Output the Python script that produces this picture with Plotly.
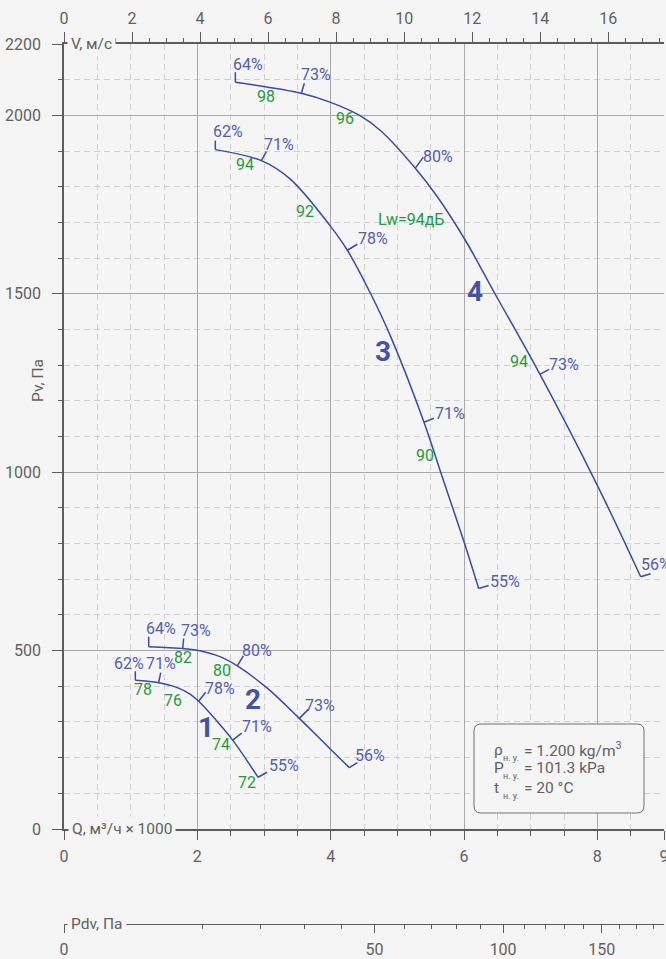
import numpy as np
import plotly.graph_objects as go

# ---------------- data ----------------
q_ticks = [0, 2, 4, 6, 8, 9]
pv_ticks = [0, 500, 1000, 1500, 2000, 2200]
v_ticks = [0, 2, 4, 6, 8, 10, 12, 14, 16]
pdv_ticks = [0, 50, 100, 150]
pdv_minor = [10, 20, 30, 40, 60, 70, 80, 90, 110, 120, 130, 140, 160, 170, 180]

V_PER_Q = 1.96      # m/s per 1000 m3/h
RHO = 1.2

c1_q = [1.07, 1.42, 1.69, 1.89, 2.02, 2.24, 2.53, 2.91]
c1_pv = [417, 410, 397, 378, 358, 314, 249, 145]
c2_q = [1.27, 1.78, 2.00, 2.34, 2.60, 3.04, 3.53, 3.99, 4.28]
c2_pv = [511, 506, 501, 483, 457, 396, 310, 225, 172]
c3_q = [2.27, 2.96, 3.39, 3.99, 4.25, 4.60, 4.90, 5.40, 5.65, 6.00, 6.22]
c3_pv = [1904, 1873, 1822, 1691, 1622, 1500, 1380, 1140, 1000, 805, 674]
c4_q = [2.57, 3.56, 3.99, 4.44, 4.75, 5.27, 5.60, 6.02, 6.45, 7.14, 8.00, 8.65]
c4_pv = [2093, 2062, 2037, 1999, 1957, 1852, 1772, 1650, 1505, 1274, 963, 707]

# efficiency marks
c1_eff_q = [1.07, 1.42, 2.02, 2.53, 2.91]
c1_eff_pv = [417, 410, 358, 249, 145]
c1_eff = [62, 71, 78, 71, 55]
c2_eff_q = [1.27, 1.78, 2.60, 3.53, 4.28]
c2_eff_pv = [511, 506, 457, 310, 172]
c2_eff = [64, 73, 80, 73, 56]
c3_eff_q = [2.27, 2.96, 4.25, 5.40, 6.22]
c3_eff_pv = [1904, 1873, 1622, 1140, 674]
c3_eff = [62, 71, 78, 71, 55]
c4_eff_q = [2.57, 3.56, 5.27, 7.14, 8.65]
c4_eff_pv = [2093, 2062, 1852, 1274, 707]
c4_eff = [64, 73, 80, 73, 56]

# sound power levels Lw, dB
c1_lw_q = [1.18, 1.63, 2.35, 2.75]
c1_lw_pv = [391, 359, 238, 131]
c1_lw = [78, 76, 74, 72]
c2_lw_q = [1.78, 2.37]
c2_lw_pv = [481, 443]
c2_lw = [82, 80]
c3_lw_q = [2.72, 3.62, 5.41]
c3_lw_pv = [1861, 1731, 1046]
c3_lw = [94, 92, 90]
c4_lw_q = [3.03, 4.22, 6.83]
c4_lw_pv = [2053, 1990, 1309]
c4_lw = [98, 96, 94]
lw_note_q, lw_note_pv, lw_note = 5.21, 1708, "Lw=94дБ"

curve_names = ["1", "2", "3", "4"]
name_q = [2.13, 2.84, 4.79, 6.17]
name_pv = [284, 364, 1339, 1507]

# ---------------- styles ----------------
BG = "#f5f5f5"
AX = "#5c5c5c"
GRID = "#a9a9a9"
GRID2 = "#d0d0d0"
TXT = "#616161"
CURVE = "#3a4aa6"
EFF = "#5160b3"
NOISE = "#1f9a40"
NUM = "#4453a8"
FONT = "Roboto"
FS = 16

W, H = 666, 959
ML, MR, MT, MB = 64, 2, 44, 35
PW, PH = W - ML - MR, H - MT - MB
PLOT_L = ML                    # page pixel of Q = 0
PLOT_T = MT                    # page pixel of Pv = 2200
PAPER_B = H - MB               # page pixel of paper bottom (Pdv axis)
Y_ZERO_PX = 829                # page pixel of Pv = 0
Y_DOM0 = (PAPER_B - Y_ZERO_PX) / PH
Q_MAX, PV_MAX = 9, 2200


def px_q(px):
    return (px - PLOT_L) / PW * Q_MAX


def px_pv(py):
    return (Y_ZERO_PX - py) / (Y_ZERO_PX - PLOT_T) * PV_MAX


def px_paper_y(py):
    return (PAPER_B - py) / PH


# tick vectors (dx, dy up) and label offsets (dx, dy up) in pixels
tick_vec = [
    [(0, 9), (2, 10), (7, 9), (9, 7), (9, 5)],
    [(0, 10), (1, 10), (6, 10), (9, 9), (8, 5)],
    [(0, 9), (5, 9), (10, 6), (10, 4), (10, 3)],
    [(0, 10), (3, 10), (8, 11), (9, 5), (10, 3)],
]
lab_off = [
    [(-6, 17), (2, 19), (21, 13), (24, 14), (26, 12)],
    [(12, 18), (13, 18), (20, 15), (21, 13), (21, 12)],
    [(13, 18), (18, 16), (26, 12), (26, 9), (26, 7)],
    [(13, 18), (15, 19), (23, 12), (24, 10), (15, 12)],
]

curves = [(c1_q, c1_pv), (c2_q, c2_pv), (c3_q, c3_pv), (c4_q, c4_pv)]
effs = [(c1_eff_q, c1_eff_pv, c1_eff), (c2_eff_q, c2_eff_pv, c2_eff),
        (c3_eff_q, c3_eff_pv, c3_eff), (c4_eff_q, c4_eff_pv, c4_eff)]
lws = [(c1_lw_q, c1_lw_pv, c1_lw), (c2_lw_q, c2_lw_pv, c2_lw),
       (c3_lw_q, c3_lw_pv, c3_lw), (c4_lw_q, c4_lw_pv, c4_lw)]

fig = go.Figure()

for cq, cpv in curves:
    fig.add_trace(go.Scatter(x=cq, y=cpv, mode="lines",
                             line=dict(color=CURVE, width=1.5, shape="spline", smoothing=1.0),
                             hoverinfo="skip", cliponaxis=False))

# invisible traces so the secondary axes are drawn
fig.add_trace(go.Scatter(x=[0], y=[0], xaxis="x2", yaxis="y", mode="markers",
                         marker=dict(opacity=0), hoverinfo="skip"))
fig.add_trace(go.Scatter(x=[0], y=[0], xaxis="x3", yaxis="y", mode="markers",
                         marker=dict(opacity=0), hoverinfo="skip"))

shapes = []
annotations = []

for ci, (eq, epv, ev) in enumerate(effs):
    for k in range(len(eq)):
        dx, dy = tick_vec[ci][k]
        shapes.append(dict(type="line", xref="x", yref="y", xsizemode="pixel", ysizemode="pixel",
                           xanchor=eq[k], yanchor=epv[k], x0=0, y0=0, x1=dx, y1=dy,
                           line=dict(color=CURVE, width=1.5)))
        ox, oy = lab_off[ci][k]
        annotations.append(dict(x=eq[k], y=epv[k], xref="x", yref="y", text=f"{ev[k]}%",
                                showarrow=False, xshift=ox, yshift=oy,
                                xanchor="center", yanchor="middle",
                                font=dict(family=FONT, size=FS, color=EFF)))

for lq, lpv, lv in lws:
    for k in range(len(lq)):
        annotations.append(dict(x=lq[k], y=lpv[k], xref="x", yref="y", text=str(lv[k]),
                                showarrow=False, xanchor="center", yanchor="middle",
                                font=dict(family=FONT, size=FS, color=NOISE)))
annotations.append(dict(x=lw_note_q, y=lw_note_pv, xref="x", yref="y", text=lw_note,
                        showarrow=False, xanchor="center", yanchor="middle",
                        font=dict(family=FONT, size=FS, color=NOISE)))

for k in range(len(curve_names)):
    annotations.append(dict(x=name_q[k], y=name_pv[k], xref="x", yref="y",
                            text=f"<b>{curve_names[k]}</b>", showarrow=False,
                            xanchor="center", yanchor="middle",
                            font=dict(family=FONT, size=28, color=NUM)))

# axis titles
annotations.append(dict(x=0, y=0, xref="paper", yref="y", xshift=4, text="Q, м³/ч × 1000",
                        showarrow=False, xanchor="left", yanchor="middle", bgcolor=BG, borderpad=3,
                        font=dict(family=FONT, size=15.5, color=TXT)))
annotations.append(dict(x=0, y=1, xref="paper", yref="paper", xshift=3, text="V, м/с",
                        showarrow=False, xanchor="left", yanchor="middle", bgcolor=BG, borderpad=3,
                        font=dict(family=FONT, size=15.5, color=TXT)))
annotations.append(dict(x=0, y=0, xref="paper", yref="paper", xshift=3, text="Pdv, Па",
                        showarrow=False, xanchor="left", yanchor="middle", bgcolor=BG, borderpad=3,
                        font=dict(family=FONT, size=15.5, color=TXT)))
annotations.append(dict(x=0, y=px_paper_y(381), xref="paper", yref="paper", xshift=-26,
                        text="Pv, Па", textangle=-90, showarrow=False,
                        xanchor="center", yanchor="middle",
                        font=dict(family=FONT, size=15.5, color=TXT)))


# info box (rounded rectangle)
def rrect_path(x0, y0, x1, y1, r):
    P = lambda x, y: f"{px_q(x):.5f},{px_pv(y):.3f}"
    return (f"M{P(x0 + r, y0)} L{P(x1 - r, y0)} Q{P(x1, y0)} {P(x1, y0 + r)} "
            f"L{P(x1, y1 - r)} Q{P(x1, y1)} {P(x1 - r, y1)} L{P(x0 + r, y1)} "
            f"Q{P(x0, y1)} {P(x0, y1 - r)} L{P(x0, y0 + r)} Q{P(x0, y0)} {P(x0 + r, y0)} Z")


shapes.append(dict(type="path", xref="x", yref="y", path=rrect_path(474, 724, 644, 813, 7),
                   line=dict(color="#707070", width=1), fillcolor=BG, layer="above"))

box_rows = [("ρ", "= 1.200 kg/m<sup>3</sup>", 749.5),
            ("P", "= 101.3 kPa", 767.5),
            ("t", "= 20 °C", 787.5)]
for sym, val, yc in box_rows:
    annotations.append(dict(x=px_q(492), y=px_pv(yc), xref="x", yref="y", text=sym, showarrow=False,
                            xanchor="left", yanchor="middle",
                            font=dict(family=FONT, size=15.5, color=TXT)))
    annotations.append(dict(x=px_q(501), y=px_pv(yc + 8.5), xref="x", yref="y", text="н. у.",
                            showarrow=False, xanchor="left", yanchor="middle",
                            font=dict(family=FONT, size=9, color=TXT)))
    annotations.append(dict(x=px_q(522), y=px_pv(yc), xref="x", yref="y", text=val, showarrow=False,
                            xanchor="left", yanchor="middle",
                            font=dict(family=FONT, size=15.5, color=TXT)))

tickfont = dict(family=FONT, size=FS, color=TXT)
v_max = Q_MAX * V_PER_Q
s_max = np.sqrt(RHO / 2) * v_max

fig.update_layout(
    width=W, height=H,
    margin=dict(l=ML, r=MR, t=MT, b=MB, pad=0, autoexpand=False),
    paper_bgcolor=BG, plot_bgcolor=BG,
    showlegend=False,
    font=dict(family=FONT, color=TXT),
    shapes=shapes,
    annotations=annotations,
    xaxis=dict(range=[0, Q_MAX], domain=[0, 1], anchor="y", tickmode="array", tickvals=q_ticks,
               ticks="outside", ticklen=9, tickwidth=1, tickcolor=AX, automargin=False,
               showgrid=True, gridcolor=GRID, gridwidth=1,
               showline=True, linecolor=AX, linewidth=2, zeroline=False,
               tickfont=tickfont, fixedrange=True, ticklabelstandoff=3, ticklabeloverflow="allow",
               minor=dict(dtick=0.5, tick0=0, ticks="outside", ticklen=5, tickwidth=1, tickcolor=AX,
                          showgrid=True, gridcolor=GRID2, gridwidth=1, griddash="6px,4px")),
    xaxis2=dict(range=[0, v_max], overlaying="x", side="top", anchor="y", automargin=False,
                tickmode="array", tickvals=v_ticks, ticks="outside", ticklen=10, tickwidth=1,
                tickcolor=AX, showgrid=False, showline=True, linecolor=AX, linewidth=1.5,
                zeroline=False, tickfont=tickfont, fixedrange=True, ticklabelstandoff=2,
                ticklabeloverflow="allow",
                minor=dict(dtick=0.5, tick0=0, ticks="outside", ticklen=4, tickwidth=1,
                           tickcolor=AX, showgrid=False)),
    xaxis3=dict(range=[0, s_max], overlaying="x", anchor="free", position=0, side="bottom",
                automargin=False,
                tickmode="array", tickvals=[float(np.sqrt(v)) for v in pdv_ticks],
                ticktext=[str(v) for v in pdv_ticks],
                ticks="outside", ticklen=8, tickwidth=1, tickcolor=AX,
                showgrid=False, showline=True, linecolor=AX, linewidth=1, zeroline=False,
                tickfont=tickfont, fixedrange=True, ticklabelstandoff=3, ticklabeloverflow="allow",
                minor=dict(tickmode="array", tickvals=[float(np.sqrt(v)) for v in pdv_minor],
                           ticks="outside", ticklen=4, tickwidth=1, tickcolor=AX, showgrid=False)),
    yaxis=dict(range=[0, PV_MAX], domain=[Y_DOM0, 1], anchor="x", tickmode="array", tickvals=pv_ticks,
               ticks="outside", ticklen=10, tickwidth=1, tickcolor=AX, automargin=False,
               showgrid=True, gridcolor=GRID, gridwidth=1,
               showline=True, linecolor=AX, linewidth=1.5, zeroline=False,
               tickfont=tickfont, fixedrange=True, ticklabelstandoff=8,
               minor=dict(dtick=100, tick0=0, ticks="outside", ticklen=4, tickwidth=1, tickcolor=AX,
                          showgrid=True, gridcolor=GRID2, gridwidth=1, griddash="6px,4px")),
)

fig.write_html("out.html", config={"displayModeBar": False},
               post_script="document.body.style.margin='0px';document.body.style.overflow='hidden';")
